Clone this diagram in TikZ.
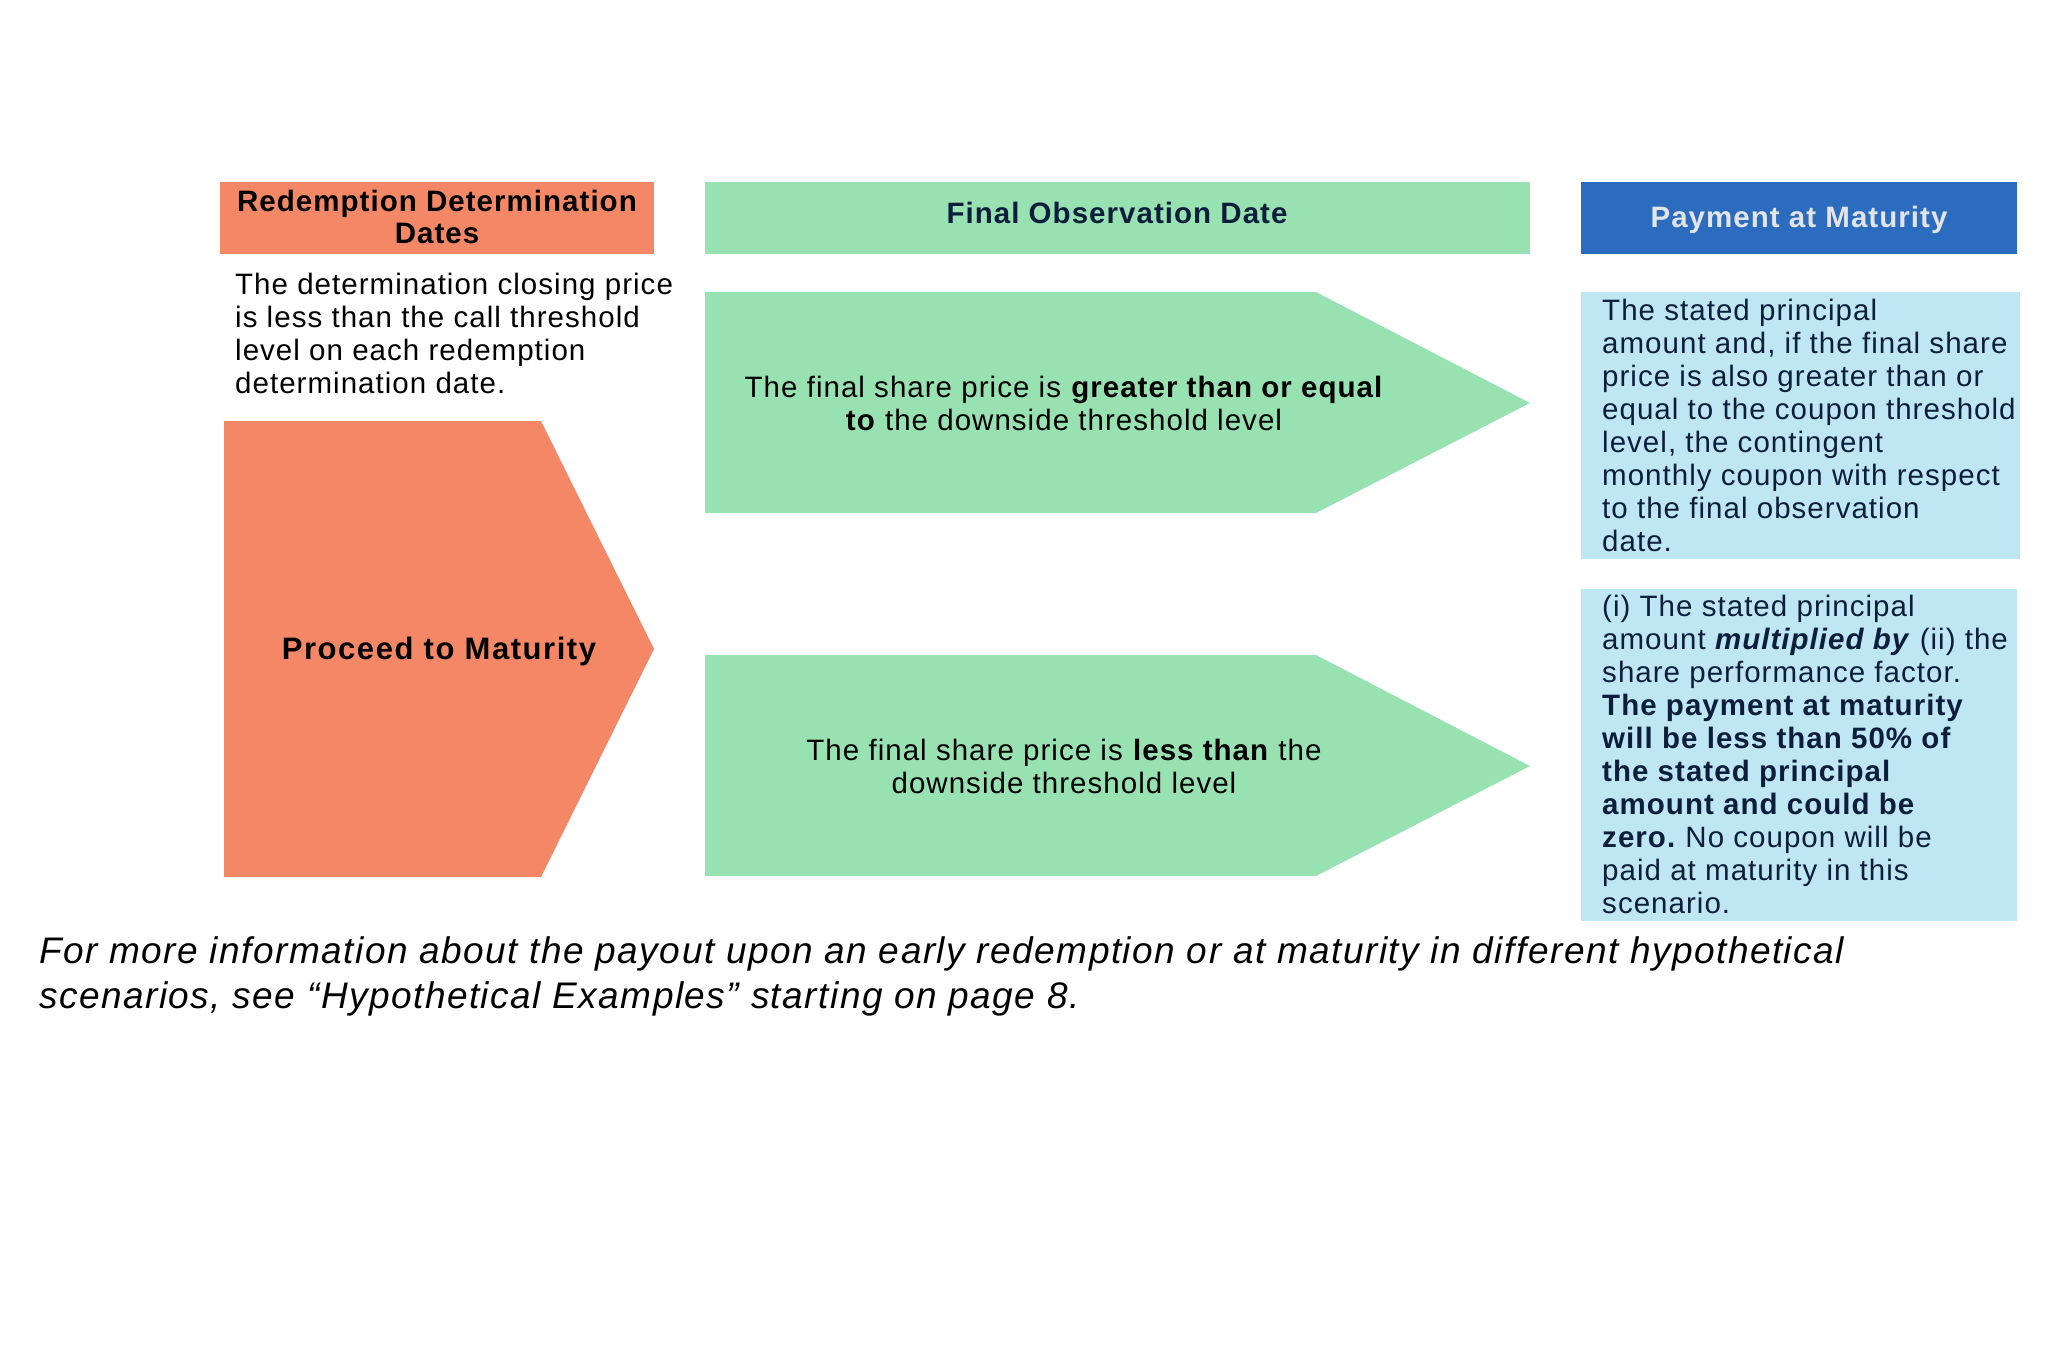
\documentclass[tikz,border=0pt]{standalone}
\usepackage{fontspec}
\setmainfont[LetterSpace=3.5]{Liberation Sans}
\newfontfamily\footfont[LetterSpace=4]{Liberation Sans}
\newfontfamily\pmfont[LetterSpace=5]{Liberation Sans}
\frenchspacing
\definecolor{orangeF}{HTML}{F38766}
\definecolor{greenF}{HTML}{98E2B2}
\definecolor{blueH}{HTML}{2B6CBF}
\definecolor{blueL}{HTML}{BEE7F3}
\definecolor{navy}{HTML}{0D1E3C}
\definecolor{greyT}{HTML}{E2E4E8}
\tikzset{
  body/.style={font=\fontsize{29.5}{33}\selectfont, inner sep=0pt},
  hdrtext/.style={font=\fontsize{29.5}{32}\selectfont\bfseries, inner sep=0pt, align=center},
}
\begin{document}
\begin{tikzpicture}[x=1pt,y=-1pt]
\useasboundingbox (0,0) rectangle (2063,1363);
% header boxes
\fill[orangeF] (220,182) rectangle (654,254);
\fill[greenF] (705,182) rectangle (1530,254);
\fill[blueH] (1581,182) rectangle (2017,254);
\node[hdrtext] (hL) at (437,217) {Redemption Determination\\Dates};
\node[hdrtext, text=navy] (hM) at (1117,213) {Final Observation Date};
\node[hdrtext, text=greyT] (hR) at (1799,220) {Payment at Maturity};
% left description
\node[body, anchor=north west, align=left] (dL) at (235,273)
  {The determination closing price\\is less than the call threshold\\level on each redemption\\determination date.};
% orange pentagon
\fill[orangeF] (224,421) -- (541,421) -- (654,649) -- (541,877) -- (224,877) -- cycle;
\node[inner sep=0pt, font=\fontsize{31}{33}\pmfont\bfseries] (pm) at (439,651) {Proceed to Maturity};
% green arrows
\fill[greenF] (705,292) -- (1316,292) -- (1530,403) -- (1316,513) -- (705,513) -- cycle;
\fill[greenF] (705,655) -- (1316,655) -- (1530,766) -- (1316,876) -- (705,876) -- cycle;
\node[body, align=center] (g1) at (1064,403)
  {The final share price is \textbf{greater than or equal}\\\textbf{to} the downside threshold level};
\node[body, align=center] (g2) at (1064,766)
  {The final share price is \textbf{less than} the\\downside threshold level};
% light blue boxes
\fill[blueL] (1581,292) rectangle (2020,559);
\fill[blueL] (1581,589) rectangle (2017,921);
\node[body, text=navy, anchor=north west, align=left] (b1) at (1602,299)
  {The stated principal\\amount and, if the final share\\price is also greater than or\\equal to the coupon threshold\\level, the contingent\\monthly coupon with respect\\to the final observation\\date.};
\node[body, text=navy, anchor=north west, align=left] (b2) at (1602,595)
  {(i) The stated principal\\amount \textit{\textbf{multiplied by}} (ii) the\\share performance factor.\\\textbf{The payment at maturity}\\\textbf{will be less than 50\% of}\\\textbf{the stated principal}\\\textbf{amount and could be}\\\textbf{zero.} No coupon will be\\paid at maturity in this\\scenario.};
% footer
\node[inner sep=0pt, anchor=north west, align=left, font=\fontsize{37}{45}\footfont\itshape] (ft) at (39,936)
  {For more information about the payout upon an early redemption or at maturity in different hypothetical\\scenarios, see “Hypothetical Examples” starting on page 8.};
\end{tikzpicture}
\end{document}
